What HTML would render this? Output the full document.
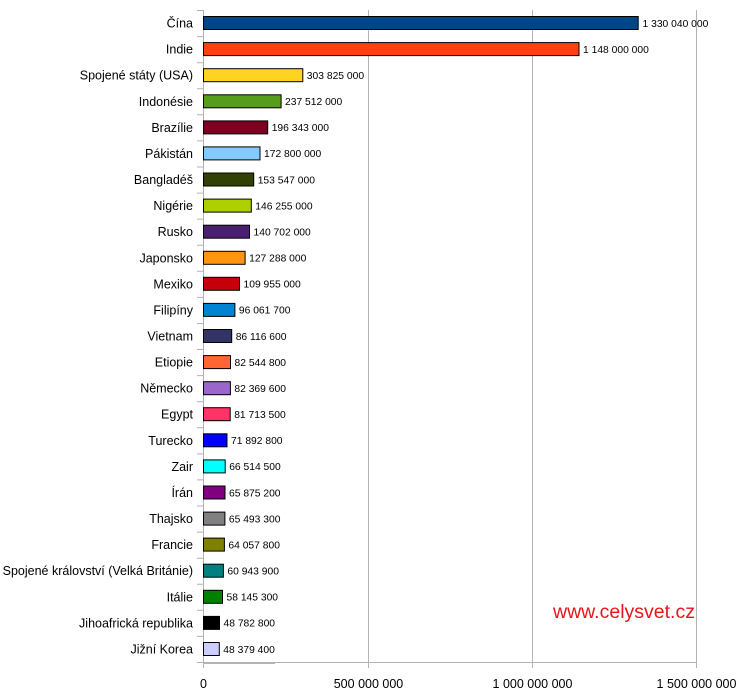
<!DOCTYPE html>
<html><head><meta charset="utf-8"><style>body{margin:0;background:#fff}svg{display:block}</style></head><body>
<svg width="740" height="700" xmlns="http://www.w3.org/2000/svg" font-family="Liberation Sans, Arial, sans-serif">
<g stroke="#b3b3b3" stroke-width="1">
<line x1="368.5" y1="10" x2="368.5" y2="668"/>
<line x1="532.5" y1="10" x2="532.5" y2="668"/>
<line x1="696.5" y1="10" x2="696.5" y2="668"/>
<line x1="203.5" y1="10" x2="203.5" y2="668"/>
<line x1="197" y1="662.5" x2="696" y2="662.5"/>
<line x1="203" y1="663" x2="275" y2="663" stroke-width="2"/>
<path d="M197 10.5H203M197 36.6H203M197 62.7H203M197 88.7H203M197 114.8H203M197 140.9H203M197 167H203M197 193.1H203M197 219.1H203M197 245.2H203M197 271.3H203M197 297.4H203M197 323.5H203M197 349.5H203M197 375.6H203M197 401.7H203M197 427.8H203M197 453.9H203M197 479.9H203M197 506H203M197 532.1H203M197 558.2H203M197 584.3H203M197 610.3H203M197 636.4H203"/>
</g>
<g stroke="#000" stroke-width="1">
<rect x="203.5" y="16.5" width="434.7" height="13" fill="#004586"/>
<rect x="203.5" y="42.6" width="375.5" height="13" fill="#ff420e"/>
<rect x="203.5" y="68.7" width="99.3" height="13" fill="#ffd320"/>
<rect x="203.5" y="94.8" width="77.6" height="13" fill="#579d1c"/>
<rect x="203.5" y="120.9" width="64.2" height="13" fill="#7e0021"/>
<rect x="203.5" y="146.9" width="56.5" height="13" fill="#83caff"/>
<rect x="203.5" y="173" width="50.2" height="13" fill="#314004"/>
<rect x="203.5" y="199.1" width="47.8" height="13" fill="#aecf00"/>
<rect x="203.5" y="225.2" width="46" height="13" fill="#4b1f6f"/>
<rect x="203.5" y="251.3" width="41.6" height="13" fill="#ff950e"/>
<rect x="203.5" y="277.3" width="36" height="13" fill="#c5000b"/>
<rect x="203.5" y="303.4" width="31.4" height="13" fill="#0084d1"/>
<rect x="203.5" y="329.5" width="28.2" height="13" fill="#333366"/>
<rect x="203.5" y="355.6" width="27" height="13" fill="#ff6633"/>
<rect x="203.5" y="381.7" width="26.9" height="13" fill="#9966cc"/>
<rect x="203.5" y="407.7" width="26.7" height="13" fill="#ff3366"/>
<rect x="203.5" y="433.8" width="23.5" height="13" fill="#0000ff"/>
<rect x="203.5" y="459.9" width="21.7" height="13" fill="#00ffff"/>
<rect x="203.5" y="486" width="21.5" height="13" fill="#800080"/>
<rect x="203.5" y="512.1" width="21.4" height="13" fill="#808080"/>
<rect x="203.5" y="538.1" width="20.9" height="13" fill="#808000"/>
<rect x="203.5" y="564.2" width="19.9" height="13" fill="#008080"/>
<rect x="203.5" y="590.3" width="19" height="13" fill="#008000"/>
<rect x="203.5" y="616.4" width="16" height="13" fill="#000000"/>
<rect x="203.5" y="642.5" width="15.8" height="13" fill="#ccccff"/>
</g>
<g font-size="12.5" text-anchor="end" fill="#000">
<text x="193" y="27.5">Čína</text>
<text x="193" y="53.6">Indie</text>
<text x="193" y="79.7">Spojené státy (USA)</text>
<text x="193" y="105.8">Indonésie</text>
<text x="193" y="131.9">Brazílie</text>
<text x="193" y="157.9">Pákistán</text>
<text x="193" y="184">Bangladéš</text>
<text x="193" y="210.1">Nigérie</text>
<text x="193" y="236.2">Rusko</text>
<text x="193" y="262.3">Japonsko</text>
<text x="193" y="288.3">Mexiko</text>
<text x="193" y="314.4">Filipíny</text>
<text x="193" y="340.5">Vietnam</text>
<text x="193" y="366.6">Etiopie</text>
<text x="193" y="392.7">Německo</text>
<text x="193" y="418.7">Egypt</text>
<text x="193" y="444.8">Turecko</text>
<text x="193" y="470.9">Zair</text>
<text x="193" y="497">Írán</text>
<text x="193" y="523.1">Thajsko</text>
<text x="193" y="549.1">Francie</text>
<text x="193" y="575.2">Spojené království (Velká Británie)</text>
<text x="193" y="601.3">Itálie</text>
<text x="193" y="627.4">Jihoafrická republika</text>
<text x="193" y="653.5">Jižní Korea</text>
</g>
<g font-size="10.3" fill="#000">
<text x="642.5" y="26.8">1 330 040 000</text>
<text x="583" y="52.9">1 148 000 000</text>
<text x="306.8" y="79">303 825 000</text>
<text x="285" y="105.1">237 512 000</text>
<text x="271.7" y="131.2">196 343 000</text>
<text x="264" y="157.2">172 800 000</text>
<text x="257.7" y="183.3">153 547 000</text>
<text x="255.3" y="209.4">146 255 000</text>
<text x="253.5" y="235.5">140 702 000</text>
<text x="249.1" y="261.6">127 288 000</text>
<text x="243.5" y="287.6">109 955 000</text>
<text x="238.9" y="313.7">96 061 700</text>
<text x="235.7" y="339.8">86 116 600</text>
<text x="234.5" y="365.9">82 544 800</text>
<text x="234.4" y="392">82 369 600</text>
<text x="234.2" y="418">81 713 500</text>
<text x="231" y="444.1">71 892 800</text>
<text x="229.2" y="470.2">66 514 500</text>
<text x="229" y="496.3">65 875 200</text>
<text x="228.9" y="522.4">65 493 300</text>
<text x="228.4" y="548.4">64 057 800</text>
<text x="227.4" y="574.5">60 943 900</text>
<text x="226.5" y="600.6">58 145 300</text>
<text x="223.5" y="626.7">48 782 800</text>
<text x="223.3" y="652.8">48 379 400</text>
</g>
<text x="624" y="618" font-size="19.5" fill="#e8141c" text-anchor="middle">www.celysvet.cz</text>
<g font-size="12.5" fill="#000" text-anchor="middle">
<text x="203.5" y="688">0</text>
<text x="368.5" y="688">500 000 000</text>
<text x="532.5" y="688">1 000 000 000</text>
<text x="696.5" y="688">1 500 000 000</text>
</g>
</svg>
</body></html>
